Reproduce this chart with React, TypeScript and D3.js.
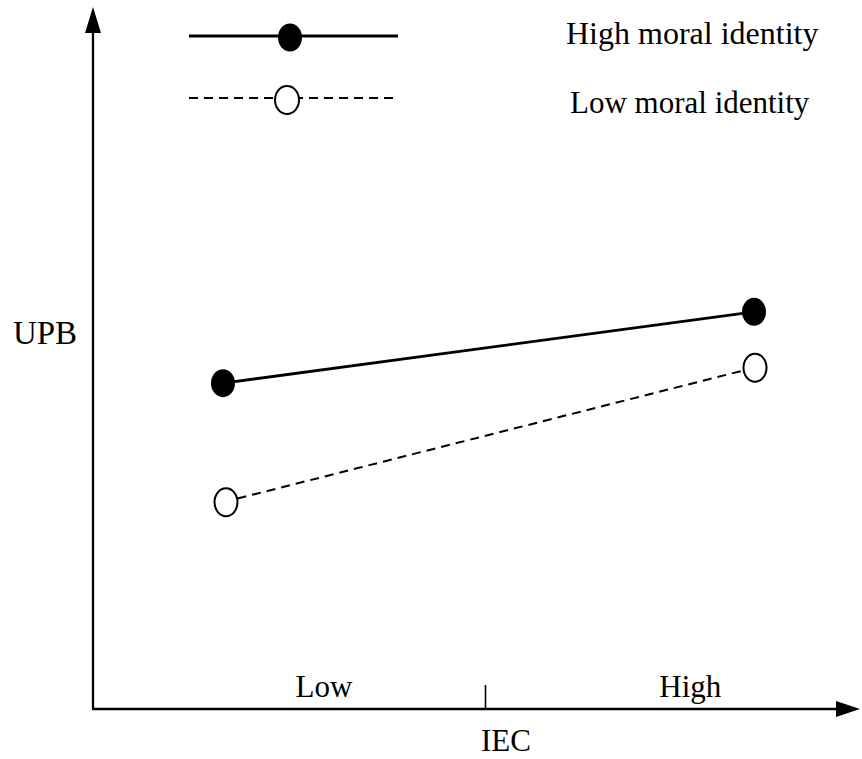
import React from "react";
import * as d3 from "d3";

// IEC levels (x) and UPB values (y) per moral identity group
const iecLevels = ["Low", "High"];
const iecValues = [-1, 1];
const iecLabelPos = [-0.62, 0.76];
const iecMidTick = [0];
const highMoralIdentity = [4.64, 5.66];
const lowMoralIdentity = [2.94, 4.86];
const seriesNames = ["High moral identity", "Low moral identity"];

const W = 862;
const H = 759;
const FONT = "'Liberation Serif', 'Times New Roman', serif";

export default function App() {
  const axisX0 = 93;
  const axisY0 = 709;
  const x = d3.scaleLinear().domain([-1, 1]).range([223, 754]);
  const y = d3.scaleLinear().domain([0, 10]).range([708, 8]);

  const line = d3
    .line<[number, number]>()
    .x((d) => x(d[0]))
    .y((d) => y(d[1]));

  const highPts: [number, number][] = iecValues.map((v, i) => [v, highMoralIdentity[i]]);
  const lowPts: [number, number][] = iecValues.map((v, i) => [v, lowMoralIdentity[i]]);

  return (
    <svg
      width={W}
      height={H}
      style={{ position: "absolute", left: 0, top: 0, background: "#fff" }}
      fontFamily={FONT}
    >
      <rect width={W} height={H} fill="#fff" />
      {/* axes */}
      <line x1={axisX0} y1={axisY0} x2={axisX0} y2={30} stroke="#000" strokeWidth={2.3} />
      <path d={`M${axisX0},7 L${axisX0 - 8},33 L${axisX0 + 8},33 Z`} fill="#000" />
      <line x1={axisX0 - 1} y1={axisY0} x2={838} y2={axisY0} stroke="#000" strokeWidth={2.3} />
      <path d={`M860,${axisY0} L836,${axisY0 - 8} L836,${axisY0 + 8} Z`} fill="#000" />
      {iecMidTick.map((t, i) => (
        <line key={i} x1={x(t) - 3} x2={x(t) - 3} y1={685} y2={axisY0} stroke="#000" strokeWidth={1.6} />
      ))}
      {iecLevels.map((lab, i) => (
        <text key={lab} x={x(iecLabelPos[i])} y={697} fontSize={31} textAnchor="middle" fill="#000">
          {lab}
        </text>
      ))}
      <text x={506} y={751} fontSize={31} textAnchor="middle" fill="#000">IEC</text>
      <text x={45} y={344} fontSize={33} textAnchor="middle" fill="#000">UPB</text>

      {/* series lines */}
      <path d={line(highPts) || ""} fill="none" stroke="#000" strokeWidth={2.8} />
      <path d={line(lowPts) || ""} fill="none" stroke="#000" strokeWidth={2} strokeDasharray="9,6" />
      {highPts.map((p, i) => (
        <ellipse key={"h" + i} cx={x(p[0])} cy={y(p[1])} rx={12} ry={14} fill="#000" />
      ))}
      {lowPts.map((p, i) => (
        <ellipse
          key={"l" + i}
          cx={x(p[0]) + (i === 0 ? 3 : 1)}
          cy={y(p[1])}
          rx={11.5}
          ry={14}
          fill="#fff"
          stroke="#000"
          strokeWidth={2}
        />
      ))}

      {/* legend */}
      <line x1={189} x2={398} y1={36} y2={36} stroke="#000" strokeWidth={2.8} />
      <ellipse cx={290} cy={37.5} rx={12} ry={14} fill="#000" />
      <line x1={189} x2={398} y1={98} y2={98} stroke="#000" strokeWidth={2} strokeDasharray="9,6" />
      <ellipse cx={287} cy={100} rx={12} ry={14} fill="#fff" stroke="#000" strokeWidth={2} />
      <text x={566} y={44} fontSize={32} fill="#000">{seriesNames[0]}</text>
      <text x={570} y={113} fontSize={31} fill="#000">{seriesNames[1]}</text>
    </svg>
  );
}
